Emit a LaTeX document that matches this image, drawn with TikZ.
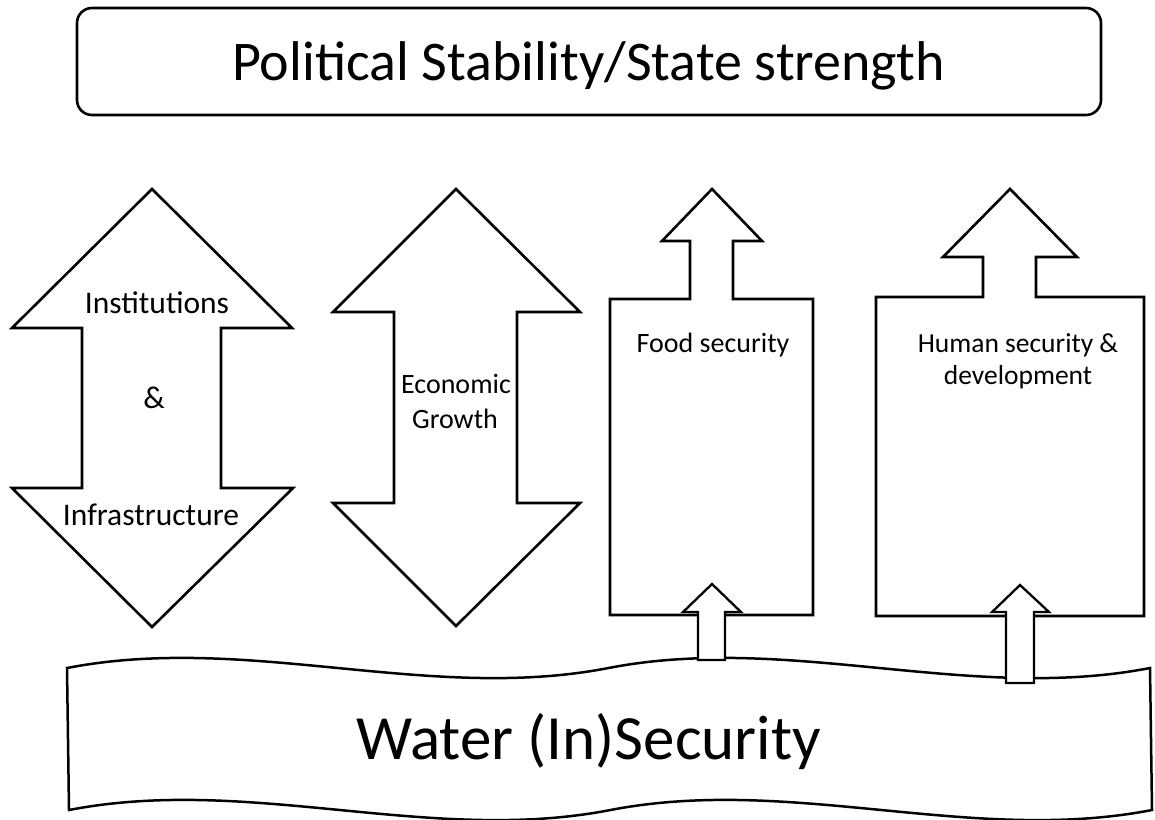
\documentclass[tikz,border=0pt]{standalone}
\usepackage{fontspec}
\setmainfont{Carlito}
\begin{document}
\begin{tikzpicture}[x=1pt,y=-1pt,
  shapeline/.style={draw=black, line width=2.6pt, fill=white, line join=miter},
  thinline/.style={draw=black, line width=2.3pt, fill=white, line join=miter},
  lbl/.style={anchor=base, inner sep=0pt, align=center, text=black},
  smalltxt/.style={lbl, font=\fontsize{28}{34}\selectfont},
  midtxt/.style={lbl, font=\fontsize{31.5}{37}\selectfont}]
\useasboundingbox (0,0) rectangle (1155,819);
\fill[white] (0,0) rectangle (1155,819);

% Top box
\draw[line width=2.6pt, rounded corners=15pt, fill=white] (77,8) rectangle (1101,115);
\node[lbl, font=\fontsize{56}{67}\selectfont] (title) at (588.5,80) {Political Stability/State strength};

% Double arrow 1
\draw[shapeline] (152,189) -- (292,328) -- (221,328) -- (221,488) -- (293,488)
  -- (152,627) -- (12,488) -- (82,488) -- (82,328) -- (12,328) -- cycle;
\node[midtxt] (inst) at (157,313) {Institutions};
\node[midtxt] (amp) at (154,408) {\&};
\node[midtxt] (infra) at (151,525) {Infrastructure};

% Double arrow 2
\draw[shapeline] (456,189) -- (580,312) -- (517,312) -- (517,503) -- (580,503)
  -- (456,626) -- (333,503) -- (394,503) -- (394,312) -- (333,312) -- cycle;
\node[smalltxt] (econ) at (456,393) {Economic};
\node[smalltxt] (growth) at (455,428) {Growth};

% Food security callout
\draw[shapeline] (610,615) -- (610,299) -- (690,299) -- (690,241) -- (662,241)
  -- (712,189) -- (762,241) -- (733,241) -- (733,299) -- (813,299) -- (813,615) -- cycle;
\node[smalltxt] (food) at (713,352) {Food security};

% Human security callout
\draw[shapeline] (876,616) -- (876,297) -- (983,297) -- (983,257) -- (943,257)
  -- (1010,189) -- (1077,257) -- (1036,257) -- (1036,297) -- (1144,297) -- (1144,616) -- cycle;
\node[smalltxt, font=\fontsize{27.5}{33}\selectfont] (human) at (1018,352) {Human security \&};
\node[smalltxt, font=\fontsize{27.5}{33}\selectfont] (dev) at (1018,384) {development};

% Water banner (double wave)
\draw[shapeline, line width=2.5pt] (67,668)
  .. controls (247.5,633) and (428,703) .. (608.5,668)
  .. controls (789,633) and (969.5,703) .. (1150,668)
  -- (1152,810)
  .. controls (971.5,845) and (791,775) .. (610.5,810)
  .. controls (430,845) and (249.5,775) .. (69,810) -- cycle;
\node[lbl, font=\fontsize{63}{75}\selectfont] (water) at (588.5,759) {Water (In)Security};

% Small up arrows from the banner
\draw[thinline] (698,660) -- (698,612) -- (683,612) -- (712,584) -- (741,612)
  -- (725,612) -- (725,660) -- cycle;
\draw[thinline] (1006,683) -- (1006,612) -- (992,612) -- (1020,585) -- (1049,612)
  -- (1034,612) -- (1034,683) -- cycle;
\end{tikzpicture}
\end{document}
